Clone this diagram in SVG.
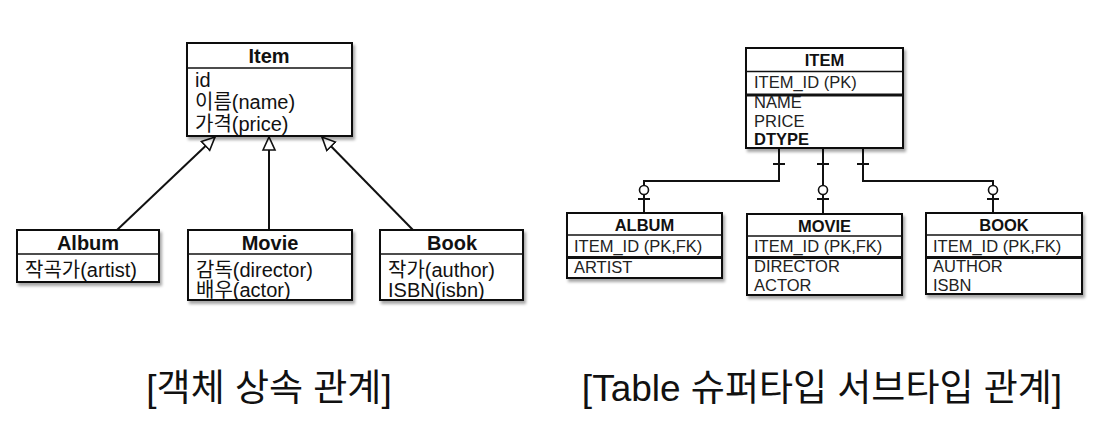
<svg xmlns="http://www.w3.org/2000/svg" width="1104" height="426" viewBox="0 0 1104 426">
<defs>
<filter id="sh" x="-10%" y="-10%" width="125%" height="130%">
<feDropShadow dx="2" dy="3" stdDeviation="1.8" flood-color="#000" flood-opacity="0.35"/>
</filter>
<marker id="tri" markerUnits="userSpaceOnUse" markerWidth="16" markerHeight="16" viewBox="0 0 16 16" refX="14" refY="8" orient="auto">
<path d="M1,2 L14,8 L1,14 Z" fill="#fff" stroke="#111" stroke-width="1.6"/>
</marker>
</defs>
<style>
text{font-family:"Liberation Sans","Noto Sans CJK KR",sans-serif;fill:#111}
.box{fill:#fff;stroke:#111;stroke-width:2;filter:url(#sh)}
.sep{stroke:#111;stroke-width:1.6}
.sep2{stroke:#111;stroke-width:3}
.ct{font-size:20px;font-weight:bold;text-anchor:middle}
.ca{font-size:20px}
.tt{font-size:16.5px;font-weight:bold;text-anchor:middle}
.ta{font-size:16.5px;fill:#222}
.tb{font-size:16.5px;font-weight:bold}
.title{font-size:37px;text-anchor:middle}
.ln{fill:none;stroke:#111;stroke-width:2}
.ck{fill:#fff;stroke:#111;stroke-width:1.6}
</style>
<rect width="1104" height="426" fill="#fff"/>

<g id="connectors">
<line class="ln" x1="117" y1="230" x2="215" y2="137" marker-end="url(#tri)"/>
<line class="ln" x1="269" y1="230" x2="269" y2="137" marker-end="url(#tri)"/>
<line class="ln" x1="413" y1="230" x2="322" y2="137" marker-end="url(#tri)"/>

<path class="ln" d="M779,148 V181 H644 V213"/>
<path class="ln" d="M823,148 V214"/>
<path class="ln" d="M863,148 V181 H993 V213"/>
<path class="ln" d="M773,164 H785 M817,164 H829 M857,164 H869 M638,199 H650 M817,199 H829 M987,199 H999"/>
<circle class="ck" cx="644" cy="190" r="4.5"/>
<circle class="ck" cx="823" cy="190" r="4.5"/>
<circle class="ck" cx="993" cy="190" r="4.5"/>
</g>

<g id="item">
<rect class="box" x="187" y="43" width="165" height="93"/>
<line class="sep" x1="187" y1="68" x2="352" y2="68"/>
<text class="ct" x="269" y="63">Item</text>
<text class="ca" x="195" y="87">id</text>
<text class="ca" x="195" y="109">이름(name)</text>
<text class="ca" x="195" y="131">가격(price)</text>
</g>

<g id="album">
<rect class="box" x="17" y="230" width="142" height="52"/>
<line class="sep" x1="17" y1="254" x2="159" y2="254"/>
<text class="ct" x="88" y="250">Album</text>
<text class="ca" x="25" y="277">작곡가(artist)</text>
</g>

<g id="movie">
<rect class="box" x="188" y="230" width="164" height="70"/>
<line class="sep" x1="188" y1="254" x2="352" y2="254"/>
<text class="ct" x="270" y="250">Movie</text>
<text class="ca" x="196" y="277">감독(director)</text>
<text class="ca" x="196" y="297">배우(actor)</text>
</g>

<g id="book">
<rect class="box" x="380" y="230" width="143" height="70"/>
<line class="sep" x1="380" y1="254" x2="523" y2="254"/>
<text class="ct" x="452" y="250">Book</text>
<text class="ca" x="388" y="277">작가(author)</text>
<text class="ca" x="388" y="297">ISBN(isbn)</text>
</g>

<g id="ITEM">
<rect class="box" x="746" y="48" width="157" height="100"/>
<line class="sep" x1="746" y1="71.5" x2="903" y2="71.5"/>
<line class="sep2" x1="746" y1="95" x2="903" y2="95"/>
<text class="tt" x="824.5" y="65.5">ITEM</text>
<text class="ta" x="754" y="88">ITEM_ID (PK)</text>
<text class="ta" x="754" y="108">NAME</text>
<text class="ta" x="754" y="127">PRICE</text>
<text class="tb" x="754" y="145">DTYPE</text>
</g>

<g id="ALBUM">
<rect class="box" x="567" y="213" width="155" height="65"/>
<line class="sep" x1="567" y1="235" x2="722" y2="235"/>
<line class="sep2" x1="567" y1="257.5" x2="722" y2="257.5"/>
<text class="tt" x="644.5" y="231">ALBUM</text>
<text class="ta" x="574" y="252">ITEM_ID (PK,FK)</text>
<text class="ta" x="574" y="273">ARTIST</text>
</g>

<g id="MOVIE">
<rect class="box" x="747" y="214" width="155" height="81"/>
<line class="sep" x1="747" y1="236" x2="902" y2="236"/>
<line class="sep2" x1="747" y1="257.5" x2="902" y2="257.5"/>
<text class="tt" x="824.5" y="231.5">MOVIE</text>
<text class="ta" x="754" y="252">ITEM_ID (PK,FK)</text>
<text class="ta" x="754" y="272">DIRECTOR</text>
<text class="ta" x="754" y="291">ACTOR</text>
</g>

<g id="BOOK">
<rect class="box" x="926" y="213" width="156" height="81"/>
<line class="sep" x1="926" y1="235" x2="1082" y2="235"/>
<line class="sep2" x1="926" y1="257.5" x2="1082" y2="257.5"/>
<text class="tt" x="1004" y="231">BOOK</text>
<text class="ta" x="933" y="252">ITEM_ID (PK,FK)</text>
<text class="ta" x="933" y="272">AUTHOR</text>
<text class="ta" x="933" y="291">ISBN</text>
</g>

<g id="titles">
<text class="title" x="269" y="401">[객체 상속 관계]</text>
<text class="title" x="822" y="401">[Table 슈퍼타입 서브타입 관계]</text>
</g>
</svg>
